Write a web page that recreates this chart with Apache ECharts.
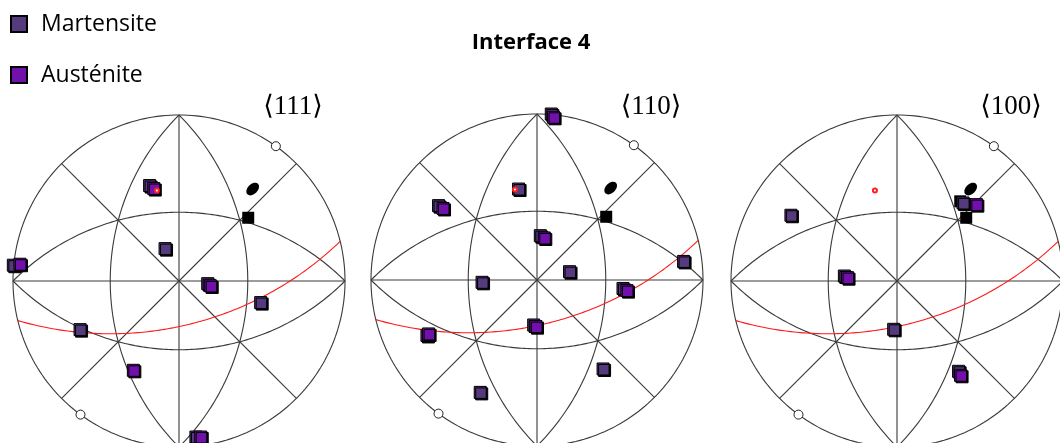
<!DOCTYPE html>
<html><head><meta charset="utf-8">
<script src="https://cdn.jsdelivr.net/npm/echarts@6/dist/echarts.min.js"></script>
<style>html,body{margin:0;padding:0;background:#fff}#c{width:1060px;height:443px}</style>
</head><body><div id="c"></div>
<script>
// ---------- data (normalised stereographic coordinates, x right, y up, radius 1) ----------
const titleText = 'Interface 4';
const figureLabels = ['\u27E8111\u27E9', '\u27E8110\u27E9', '\u27E8100\u27E9'];
const seriesNames = ['Martensite', 'Austénite'];

const martensite111 = [[-0.177,0.575],[-0.084,0.195],[-0.998,0.095],[-0.596,-0.293],[0.173,-0.016],[0.492,-0.130],[0.102,-0.940]];
const austenite111  = [[-0.152,0.557],[-0.958,0.101],[0.191,-0.030],[-0.275,-0.538],[0.131,-0.940]];

const martensite110 = [[0.086,1.000],[-0.111,0.548],[-0.593,0.448],[0.020,0.267],[0.196,0.050],[-0.331,-0.014],[0.518,-0.051],[0.883,0.112],[-0.020,-0.271],[-0.663,-0.334],[0.398,-0.536],[-0.342,-0.677]];
const austenite110  = [[0.100,0.980],[-0.566,0.431],[0.044,0.253],[0.542,-0.064],[-0.006,-0.281],[-0.653,-0.325]];

const martensite100 = [[-0.639,0.396],[0.398,0.470],[-0.317,0.030],[-0.020,-0.291],[0.371,-0.544]];
const austenite100  = [[0.478,0.460],[-0.298,0.020],[0.383,-0.568]];

const referenceSquares = [[[0.417,0.381]], [[0.417,0.381]], [[0.417,0.381],[0.381,0.480]]];
const referenceBlob = [0.444, 0.554];
const redMarker = [-0.133, 0.545];
const primitiveMarkerAngles = [54.3, 233.6];     // degrees on the primitive circle
const netStrikes = [0, 45, 90, 135];             // straight diameters (dip 90)
const netArcs = [[90,45],[270,45],[0,45],[180,45]]; // [strike, dip] great circles
const redPlane = [13.8, 60];                     // [strike, dip]

// ---------- geometry helpers ----------
const D = Math.PI / 180;
function project(v) { return [v[0] / (1 - v[2]), v[1] / (1 - v[2])]; }
function greatCircle(strike, dip, n) {
  n = n || 120;
  const s = strike * D, b = dip * D;
  const sv = [Math.cos(s), Math.sin(s), 0];
  const dv = [Math.sin(s) * Math.cos(b), -Math.cos(s) * Math.cos(b), -Math.sin(b)];
  const pts = [];
  for (let i = 0; i <= n; i++) {
    const t = Math.PI * i / n;
    const v = [0, 1, 2].map(k => Math.cos(t) * sv[k] + Math.sin(t) * dv[k]);
    pts.push(project(v));
  }
  return pts;
}
function primitive(n) {
  const pts = [];
  for (let i = 0; i <= n; i++) { const a = 2 * Math.PI * i / n; pts.push([Math.cos(a), Math.sin(a)]); }
  return pts;
}

const figures = [
  { label: figureLabels[0], m: martensite111, a: austenite111, cx: 179, cy: 281 },
  { label: figureLabels[1], m: martensite110, a: austenite110, cx: 537, cy: 280 },
  { label: figureLabels[2], m: martensite100, a: austenite100, cx: 897, cy: 281 }
];
const R = 166;
const colM = '#553b7d', colA = '#7210ab';

const grids = [], xAxes = [], yAxes = [], series = [];
const titles = [{
  text: titleText, left: 531, top: 28, textAlign: 'center', padding: 0,
  textStyle: { fontFamily: 'Open Sans', fontWeight: 'bold', fontSize: 22, lineHeight: 30, color: '#000' }
}];

figures.forEach((f, i) => {
  grids.push({ left: f.cx - R, top: f.cy - R, width: 2 * R, height: 2 * R, outerBoundsMode: 'none', containLabel: false, show: false });
  xAxes.push({ gridIndex: i, type: 'value', min: -1, max: 1, show: false });
  yAxes.push({ gridIndex: i, type: 'value', min: -1, max: 1, show: false });
  titles.push({
    text: f.label, left: f.cx + 114, top: 92, textAlign: 'center', padding: 0,
    textStyle: { fontFamily: 'Liberation Serif, DejaVu Serif, DejaVu Sans', fontWeight: 'normal', fontSize: 27, lineHeight: 30, color: '#000' }
  });

  const netCurves = [primitive(240)];
  netStrikes.forEach(s => netCurves.push(greatCircle(s, 90, 2)));
  netArcs.forEach(p => netCurves.push(greatCircle(p[0], p[1])));
  series.push({
    type: 'lines', coordinateSystem: 'cartesian2d', xAxisIndex: i, yAxisIndex: i,
    polyline: true, silent: true, z: 1, clip: false,
    lineStyle: { color: '#3a3a3a', width: 1.1, opacity: 1 },
    data: netCurves.map(c => ({ coords: c }))
  });
  series.push({
    type: 'lines', coordinateSystem: 'cartesian2d', xAxisIndex: i, yAxisIndex: i,
    polyline: true, silent: true, z: 2, clip: false,
    lineStyle: { color: '#ff1a1a', width: 1.1, opacity: 1 },
    data: [{ coords: greatCircle(redPlane[0], redPlane[1]) }]
  });
  series.push({
    type: 'scatter', xAxisIndex: i, yAxisIndex: i, z: 3, silent: true,
    symbol: 'circle', symbolSize: 9,
    itemStyle: { color: '#fff', borderColor: '#222', borderWidth: 1, opacity: 1 },
    data: primitiveMarkerAngles.map(a => [Math.cos(a * D), Math.sin(a * D)])
  });
  series.push({
    type: 'scatter', xAxisIndex: i, yAxisIndex: i, z: 3, silent: true,
    symbol: 'circle', symbolSize: [10, 15], symbolRotate: -45,
    itemStyle: { color: '#000', opacity: 1 },
    data: [referenceBlob]
  });
  series.push({
    type: 'scatter', xAxisIndex: i, yAxisIndex: i, z: 3, silent: true,
    symbol: 'rect', symbolSize: 12,
    itemStyle: { color: '#000', opacity: 1 },
    data: referenceSquares[i]
  });
  series.push({
    name: seriesNames[0], type: 'scatter', xAxisIndex: i, yAxisIndex: i, z: 4,
    symbol: 'rect', symbolSize: 12,
    itemStyle: { color: colM, borderColor: '#000', borderWidth: 1, opacity: 1, shadowColor: '#000', shadowOffsetX: 1.5, shadowOffsetY: 1.5, shadowBlur: 0 },
    data: f.m
  });
  series.push({
    name: seriesNames[1], type: 'scatter', xAxisIndex: i, yAxisIndex: i, z: 5,
    symbol: 'rect', symbolSize: 12,
    itemStyle: { color: colA, borderColor: '#000', borderWidth: 1, opacity: 1, shadowColor: '#000', shadowOffsetX: 1.5, shadowOffsetY: 1.5, shadowBlur: 0 },
    data: f.a
  });
  series.push({
    type: 'scatter', xAxisIndex: i, yAxisIndex: i, z: 6, silent: true,
    symbol: 'emptyCircle', symbolSize: 4,
    itemStyle: { color: '#ff2020', borderColor: '#ff2020', borderWidth: 1, opacity: 1 },
    data: [redMarker]
  });
});

const chart = echarts.init(document.getElementById('c'), null, { renderer: 'canvas' });
chart.setOption({
  animation: false,
  backgroundColor: '#fff',
  title: titles,
  legend: {
    data: seriesNames, orient: 'vertical', left: 10, top: 12, padding: 0,
    itemWidth: 16, itemHeight: 16, itemGap: 27, icon: 'rect',
    selectedMode: false,
    textStyle: { fontFamily: 'Open Sans', fontSize: 23, lineHeight: 24, color: '#000', padding: [0, 0, 0, 9] }
  },
  grid: grids, xAxis: xAxes, yAxis: yAxes, series: series
});
</script></body></html>
